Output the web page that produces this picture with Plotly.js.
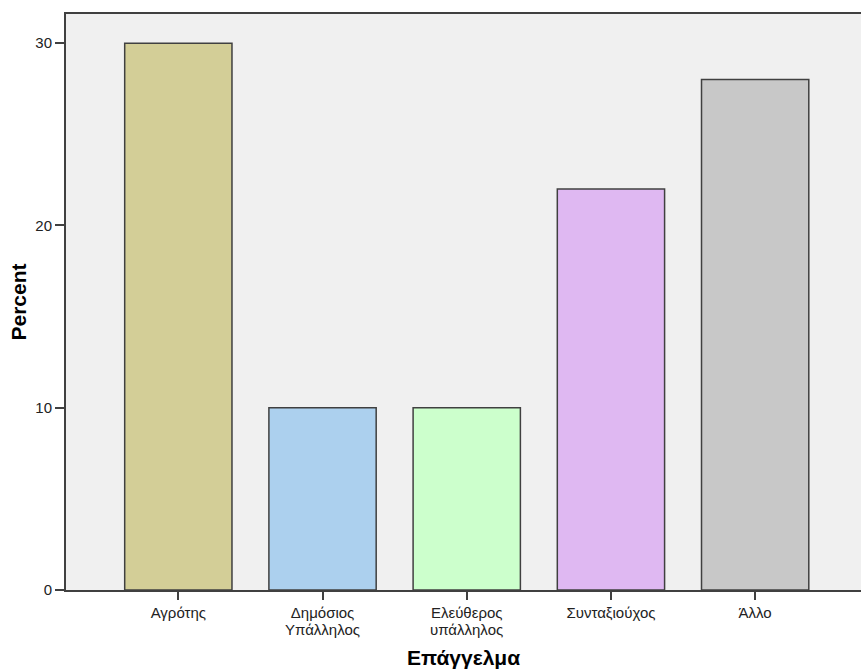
<!DOCTYPE html>
<html>
<head>
<meta charset="utf-8">
<script src="https://cdn.plot.ly/plotly-3.0.1.min.js"></script>
<style>html,body{margin:0;padding:0;background:#fff;}#chart{width:861px;height:672px;}</style>
</head>
<body>
<div id="chart"></div>
<script>
const categories = ["Αγρότης", "Δημόσιος Υπάλληλος", "Ελεύθερος υπάλληλος", "Συνταξιούχος", "Άλλο"];
const labelLine1 = ["Αγρότης", "Δημόσιος", "Ελεύθερος", "Συνταξιούχος", "Άλλο"];
const labelLine2 = ["", "Υπάλληλος", "υπάλληλος", "", ""];
const percentValues = [30, 10, 10, 22, 28];
const barColors = ["#d3ce97", "#acd0ee", "#ccffcc", "#dfb8f2", "#c8c8c8"];
const yTickValues = [0, 10, 20, 30];

const trace = {
  type: "bar",
  x: categories,
  y: percentValues,
  width: 0.744,
  marker: {color: barColors, line: {color: "#404040", width: 1.5}},
  hoverinfo: "none"
};

const secondLines = categories.map((c, i) => ({
  x: c, xref: "x", y: 0, yref: "paper",
  text: labelLine2[i], showarrow: false,
  yanchor: "middle", yshift: -39, borderpad: 0,
  font: {size: 15, color: "#222"}
})).filter((a, i) => labelLine2[i] !== "");

const layout = {
  width: 861, height: 672,
  margin: {l: 66, r: 0, t: 14, b: 82},
  paper_bgcolor: "#ffffff",
  plot_bgcolor: "#f0f0f0",
  font: {family: "Liberation Sans, Arial, sans-serif", color: "#222", size: 15},
  showlegend: false,
  xaxis: {
    type: "category",
    range: [-0.779, 4.734],
    tickvals: categories, ticktext: labelLine1,
    showline: true, linecolor: "#404040", linewidth: 2, mirror: true,
    ticks: "outside", ticklen: 8, tickcolor: "#404040", tickwidth: 2,
    showgrid: false, zeroline: false,
    tickfont: {size: 15},
    title: {text: "<b>Επάγγελμα</b>", font: {size: 21, color: "#000"}, standoff: 30}
  },
  yaxis: {
    range: [0, 31.6],
    tickvals: yTickValues,
    showline: true, linecolor: "#404040", linewidth: 2,
    ticks: "outside", ticklen: 9, tickcolor: "#404040", tickwidth: 2,
    showgrid: false, zeroline: false,
    tickfont: {size: 15},
    title: {text: "<b>Percent</b>", font: {size: 21, color: "#000"}, standoff: 3}
  },
  annotations: secondLines
};

Plotly.newPlot("chart", [trace], layout, {staticPlot: true, displayModeBar: false});
</script>
</body>
</html>
